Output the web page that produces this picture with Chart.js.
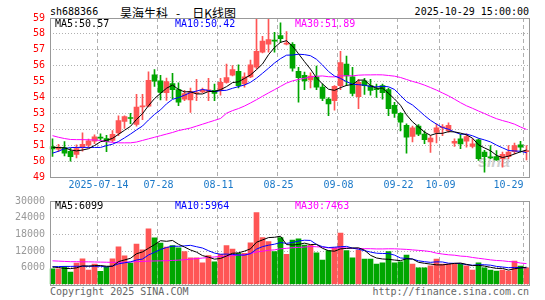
<!DOCTYPE html>
<html>
<head>
<meta charset="utf-8">
<script src="https://cdn.jsdelivr.net/npm/chart.js@4.4.1/dist/chart.umd.min.js"></script>
<style>
body { margin: 0; background: #fff; width: 545px; height: 300px; overflow: hidden; position: relative; font-family: "DejaVu Sans Mono", monospace; font-size: 10px; }
.t { position: absolute; white-space: nowrap; line-height: 12px; }
canvas { position: absolute; left: 0; z-index: 1; }
</style>
</head>
<body>
<div class="t" style="left:50px;top:6px;color:#000">sh688366</div>
<div class="t" style="left:120px;top:4px;font:12px 'Noto Sans CJK SC';color:#000"><span>昊海生科</span><span style="margin:0 12px 0 8px">-</span><span>日K线图</span></div>
<div class="t" style="right:16px;top:6px;color:#000">2025-10-29 15:00:00</div>

<div class="t" style="left:478px;top:153px;font:italic bold 16px 'Liberation Sans';color:#cfcfcf;z-index:0">sina</div>

<div class="t" style="left:55px;top:18px;color:#000;z-index:2">MA5:50.57</div>
<div class="t" style="left:175px;top:18px;color:#0000ff;z-index:2">MA10:50.42</div>
<div class="t" style="left:295px;top:18px;color:#ff00ff;z-index:2">MA30:51.89</div>

<div class="t" style="left:55px;top:200px;color:#000;z-index:2">MA5:6099</div>
<div class="t" style="left:175px;top:200px;color:#0000ff;z-index:2">MA10:5964</div>
<div class="t" style="left:295px;top:200px;color:#ff00ff;z-index:2">MA30:7463</div>

<div class="t" style="left:50px;top:286px;color:#666">Copyright 2025 SINA.COM</div>
<div class="t" style="right:16px;top:286px;color:#666">http://finance.sina.com.cn</div>

<canvas id="k" width="545" height="198" style="top:0"></canvas>
<canvas id="v" width="545" height="110" style="top:190px"></canvas>

<script>
// trading days shown (2025)
var dates = [
  '07-02','07-03','07-04','07-07','07-08','07-09','07-10','07-11','07-14','07-15','07-16','07-17','07-18','07-21','07-22','07-23','07-24','07-25','07-28','07-29','07-30','07-31',
  '08-01','08-04','08-05','08-06','08-07','08-08','08-11','08-12','08-13','08-14','08-15','08-18','08-19','08-20','08-21','08-22','08-25','08-26','08-27','08-28','08-29',
  '09-01','09-02','09-03','09-04','09-05','09-08','09-09','09-10','09-11','09-12','09-15','09-16','09-17','09-18','09-19','09-22','09-23','09-24','09-25','09-26','09-29','09-30',
  '10-09','10-10','10-13','10-14','10-15','10-16','10-17','10-20','10-21','10-22','10-23','10-24','10-27','10-28','10-29'
];
var xTicks = ['07-14', '07-28', '08-11', '08-25', '09-08', '09-22', '10-09', '10-29'];
var firstTickText = '2025-07-14';

var open = [50.92,50.75,50.85,50.62,50.42,50.85,51.00,51.25,51.50,51.42, 51.30,51.78,52.50,52.72,52.30,53.40,53.45,55.42,55.05,54.30,
  54.88,54.50,53.90,53.85,54.25,54.35,54.38,54.45,54.45,54.95, 55.40,55.65,54.85,55.30,55.90,56.85,57.35,57.60,57.90,57.35,
  57.35,55.65,55.40,55.10,55.30,54.65,53.90,53.80,54.75,56.10, 55.30,54.05,55.05,54.75,54.55,54.75,54.50,53.50,53.00,52.25,
  51.55,52.20,51.70,51.20,51.80,52.10,51.92,51.12,51.40,51.25, 50.92,51.33,50.56,50.25,50.28,50.15,50.28,50.60,51.02,50.60];
var high = [51.40,51.05,51.22,50.80,51.02,51.78,51.38,51.65,51.72,51.62, 51.92,52.85,52.85,53.00,54.20,54.20,55.62,55.75,55.40,55.22,
  55.52,54.92,54.45,54.60,55.15,54.60,55.20,54.85,55.20,56.10, 56.00,56.05,55.55,56.35,59.20,57.85,59.30,58.10,58.70,58.15,
  57.45,55.90,55.60,55.55,55.98,54.85,54.00,54.75,56.90,56.60, 55.90,55.15,55.20,55.15,54.85,54.85,54.60,53.70,53.05,52.35,
  52.20,52.30,51.90,51.60,52.35,52.30,52.40,51.40,51.68,51.72, 51.40,51.40,50.68,50.98,50.66,50.56,50.98,51.13,51.25,50.98];
var low = [50.30,50.60,50.32,50.00,50.20,50.62,50.85,51.10,51.30,50.60, 51.20,51.60,52.05,52.35,52.20,52.60,53.40,54.70,53.85,53.82,
  53.92,53.48,53.80,53.06,53.80,54.30,53.80,53.80,54.15,54.90, 55.35,54.60,54.65,55.25,55.80,56.80,56.85,56.85,57.45,57.30,
  55.65,53.70,54.50,54.60,54.50,53.80,52.85,53.20,54.50,54.75, 54.10,53.30,54.20,54.15,54.00,53.90,52.85,52.75,51.90,50.50,
  51.20,51.60,51.10,50.55,51.15,51.60,51.80,50.92,50.78,50.88, 50.83,50.04,49.30,50.15,50.04,49.62,50.15,50.45,50.56,50.08];
var close = [50.77,50.88,50.50,50.28,50.78,51.05,51.28,51.52,51.45,51.22, 51.68,52.55,52.80,52.68,53.40,53.48,55.08,55.02,54.32,55.00,
  54.50,53.70,54.25,54.38,54.30,54.48,54.48,54.25,54.95,55.25, 55.75,54.75,55.30,56.05,56.90,57.55,57.65,57.55,57.70,57.42,
  55.85,55.25,55.05,55.35,54.65,53.95,53.60,54.70,56.20,55.35, 54.25,54.95,54.75,54.45,54.50,54.30,53.30,53.00,52.45,51.50,
  52.10,51.70,51.35,51.45,52.10,52.13,52.25,51.25,51.08,51.55, 51.08,50.15,50.28,50.20,50.08,50.42,50.56,50.98,50.88,50.65];

var volume = [5600,5600,6550,4450,7700,9200,5200,7300,4750,6350, 9200,13500,10300,7700,14550,12500,20000,16750,14900,13450,
  14000,13150,11800,9600,9600,7800,10350,8150,10850,13950, 12750,11200,11200,15000,25800,16850,15400,11800,16850,10850,
  16000,16400,14200,14200,11400,8800,12150,13250,18450,12150, 9600,12400,9150,9150,7350,7800,11800,7800,8150,10600,
  7350,6000,6000,6750,9150,7350,7350,7350,7350,6750, 5150,7800,6000,5150,4800,5150,4800,8450,6600,6000];

var ma5Head = [50.87, 50.85, 50.84, 50.70];
var ma10Head = [50.50, 50.62, 50.78, 50.85, 50.86, 50.86, 50.86, 50.86, 50.86];
var ma30Head = [51.60,51.50,51.42,51.36,51.35,51.35,51.34,51.33,51.30,51.22, 51.18,51.15,51.15,51.15,51.20,51.30,51.40,51.50,51.60,51.70,
  51.80,51.92,52.00,52.08,52.20,52.32,52.44,52.56,52.68];
var vma5Head = [6300, 6100, 5800, 5700];
var vma10Head = [6400, 6450, 6500, 6500, 6550, 6550, 6550, 6550, 6550];
var vma30Head = [8500,8400,8300,8200,8200,8150,8150,8100,8050,8000, 7950,7950,8000,8100,8200,8300,8400,8450,8500,8550,
  8650,8750,8900,9100,9300,9500,9700,9900,10100];

function movingAvg(src, n, head) {
  return src.map(function (v, i) {
    if (i < n - 1) return head[i];
    var s = 0;
    for (var j = i - n + 1; j <= i; j++) s += src[j];
    return s / n;
  });
}

var upColor = '#ff5555', downColor = '#00a600';
var colors = close.map(function (c, i) { return c >= open[i] ? upColor : downColor; });
var gridIdx = xTicks.map(function (d) { return dates.indexOf(d); });
var monoFont = { family: 'DejaVu Sans Mono', size: 10 };

function lineSet(data, color) {
  return { type: 'line', data: data, borderColor: color, borderWidth: 1, pointRadius: 0, tension: 0, order: 0 };
}

var frame = {
  id: 'frame',
  afterDraw: function (chart) {
    var a = chart.chartArea, c = chart.ctx;
    c.save();
    c.strokeStyle = '#999';
    c.lineWidth = 1;
    c.strokeRect(50.5, Math.round(a.top) + 0.5, 479, Math.round(a.bottom) - Math.round(a.top));
    c.restore();
  }
};

var dateLabels = {
  id: 'dateLabels',
  afterDraw: function (chart) {
    var sx = chart.scales.x, c = chart.ctx, a = chart.chartArea;
    c.save();
    c.font = '10px "DejaVu Sans Mono"';
    c.fillStyle = '#1a78c8';
    c.textAlign = 'center';
    c.textBaseline = 'middle';
    xTicks.forEach(function (d, k) {
      var txt = k === 0 ? firstTickText : d;
      var w = c.measureText(txt).width;
      var x = sx.getPixelForValue(dates.indexOf(d)) - 2;
      if (x + w / 2 > a.right - 6) x = a.right - 6 - w / 2;
      c.fillText(txt, x, 185);
    });
    c.restore();
  }
};

function xScale(extraHeight) {
  return {
    type: 'category',
    offset: true,
    ticks: { display: false },
    grid: {
      offset: true,
      drawTicks: false,
      lineWidth: 1,
      color: function (ctx) { return gridIdx.indexOf(ctx.index) >= 0 ? '#b0b0b0' : 'rgba(0,0,0,0)'; }
    },
    border: { display: false, dash: [4, 3] },
    afterFit: function (s) { s.height = extraHeight; }
  };
}

new Chart(document.getElementById('k'), {
  type: 'bar',
  data: {
    labels: dates,
    datasets: [
      lineSet(movingAvg(close, 5, ma5Head), '#000000'),
      lineSet(movingAvg(close, 10, ma10Head), '#0000ff'),
      lineSet(movingAvg(close, 30, ma30Head), '#ff00ff'),
      {
        data: close.map(function (c, i) { return [Math.min(open[i], c), Math.max(open[i], c)]; }),
        backgroundColor: colors, barThickness: 5, grouped: false, minBarLength: 1, order: 1
      },
      {
        data: high.map(function (h, i) { return [low[i], h]; }),
        backgroundColor: colors, barThickness: 1, grouped: false, order: 2
      }
    ]
  },
  options: {
    responsive: false,
    animation: false,
    layout: { padding: { top: 18, right: 15.5, left: 0, bottom: 0 } },
    plugins: { legend: { display: false }, tooltip: { enabled: false } },
    scales: {
      x: xScale(21),
      y: {
        min: 49, max: 59,
        ticks: { stepSize: 1, color: '#ff0000', font: monoFont, padding: 4.5 },
        grid: { drawTicks: false, color: '#b0b0b0' },
        border: { display: false, dash: [1, 2] },
        afterFit: function (s) { s.width = 49.5; }
      }
    }
  },
  plugins: [frame, dateLabels]
});

new Chart(document.getElementById('v'), {
  type: 'bar',
  data: {
    labels: dates,
    datasets: [
      lineSet(movingAvg(volume, 5, vma5Head), '#000000'),
      lineSet(movingAvg(volume, 10, vma10Head), '#0000ff'),
      lineSet(movingAvg(volume, 30, vma30Head), '#ff00ff'),
      { data: volume, backgroundColor: colors, barThickness: 5, grouped: false, order: 1 }
    ]
  },
  options: {
    responsive: false,
    animation: false,
    layout: { padding: { top: 11, right: 15.5, left: 0, bottom: 15.5 } },
    plugins: { legend: { display: false }, tooltip: { enabled: false } },
    scales: {
      x: xScale(0),
      y: {
        min: 0, max: 30000,
        ticks: {
          stepSize: 6000, color: '#999999', font: monoFont, padding: 4.5,
          callback: function (v) { return v === 0 ? '' : v; }
        },
        grid: { drawTicks: false, color: '#b0b0b0' },
        border: { display: false, dash: [1, 2] },
        afterFit: function (s) { s.width = 49.5; }
      }
    }
  },
  plugins: [frame]
});
</script>
</body>
</html>
